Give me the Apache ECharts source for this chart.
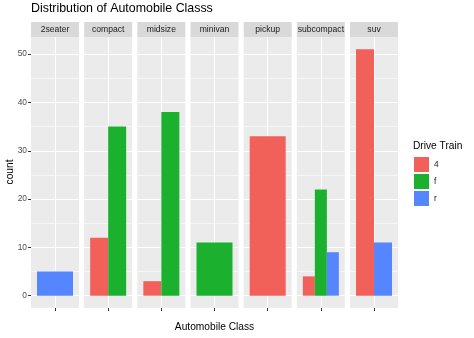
<!DOCTYPE html>
<html><head><meta charset="utf-8">
<script src="https://cdn.jsdelivr.net/npm/echarts@6/dist/echarts.min.js"></script>
<style>html,body{margin:0;padding:0;background:#fff}#c{width:474px;height:338px}</style>
</head><body><div id="c"></div>
<script>
var classes = ['2seater','compact','midsize','minivan','pickup','subcompact','suv'];
var drives = ['4','f','r'];
var count4 = [null, 12, 3, null, 33, 4, 51];
var countF = [null, 35, 38, 11, null, 22, null];
var countR = [5, null, null, null, null, 9, 11];
var yTicks = [0, 10, 20, 30, 40, 50];
var yMinor = [5, 15, 25, 35, 45];
var colors = {'4':'#F2605A','f':'#1BB12E','r':'#5585FF'};

var chart = echarts.init(document.getElementById('c'), null, {renderer:'canvas'});
var step = 53.17, pw = 48, left0 = 31, panelTop = 37, panelBottom = 338-308;
var grids=[], xAxes=[], yAxes=[], series=[], titles=[];
var font = 'Liberation Sans, Arial, sans-serif';
titles.push({text:'Distribution of Automobile Classs', left:31, top:3, padding:0, textStyle:{fontFamily:font,fontSize:12.4,fontWeight:'normal',color:'#000'}});
titles.push({text:'Drive Train', left:413, top:141, padding:0, textStyle:{fontFamily:font,fontSize:10.2,fontWeight:'normal',color:'#000'}});
var graphics = [];
classes.forEach(function(cls, i){
  var l = left0 + i*step;
  grids.push({left:l, width:pw, top:panelTop, bottom:panelBottom, show:true, backgroundColor:'#EBEBEB', borderWidth:0, containLabel:false});
  graphics.push({type:'rect', shape:{x:l, y:22, width:pw, height:15}, style:{fill:'#D9D9D9'}, silent:true});
  graphics.push({type:'text', x:l+pw/2, y:29.5, style:{text:cls, fill:'#1A1A1A', font:'8.6px '+font, align:'center', verticalAlign:'middle'}, silent:true});
  xAxes.push({type:'value', gridIndex:i, min:0.4, max:1.6, position:'bottom',
    axisLine:{show:false, onZero:false}, axisLabel:{show:false},
    axisTick:{show:true, length:3, customValues:[1], lineStyle:{color:'#333',width:1}},
    splitLine:{show:true, lineStyle:{color:'#fff', width:1.1}}});
  yAxes.push({type:'value', gridIndex:i, min:-2.55, max:53.55,
    axisLine:{show:false, onZero:false},
    axisTick:{show:i===0, length:3, customValues:yTicks, lineStyle:{color:'#333',width:1}},
    axisLabel:{show:i===0, customValues:yTicks, margin:4, color:'#4D4D4D', fontSize:8.4, fontFamily:font},
    splitLine:{show:true, lineStyle:{color:'#fff', width:1.1}}});
  yAxes.push({type:'value', gridIndex:i, min:-2.55, max:53.55, position:'left',
    axisLine:{show:false, onZero:false}, axisLabel:{show:false},
    axisTick:{show:false, customValues:yMinor},
    splitLine:{show:true, lineStyle:{color:'#fff', width:0.55}}});
  var present = [];
  if (count4[i] != null) present.push(['4', count4[i]]);
  if (countF[i] != null) present.push(['f', countF[i]]);
  if (countR[i] != null) present.push(['r', countR[i]]);
  var n = present.length;
  present.forEach(function(p, k){
    var bw = 0.9/n;
    var xc = 1 - 0.45 + (k+0.5)*bw;
    series.push({type:'custom', name:p[0], xAxisIndex:i, yAxisIndex:2*i,
      itemStyle:{color:colors[p[0]]},
      data:[[xc, p[1], bw]],
      renderItem:function(params, api){
        var x = api.value(0), v = api.value(1), w = api.value(2);
        var p1 = api.coord([x - w/2, v]);
        var p2 = api.coord([x + w/2, 0]);
        return {type:'rect', shape:{x:p1[0], y:p1[1], width:p2[0]-p1[0], height:p2[1]-p1[1]}, style:{fill:api.visual('color')}};
      }, z:5});
  });
});
graphics.push({type:'text', x:214.5, y:327, style:{text:'Automobile Class', fill:'#000', font:'10.2px '+font, align:'center', verticalAlign:'middle'}, silent:true});
graphics.push({type:'text', x:10, y:172, rotation:Math.PI/2, style:{text:'count', fill:'#000', font:'10.2px '+font, align:'center', verticalAlign:'middle'}, silent:true});

chart.setOption({
  animation:false,
  title:titles,
  grid:grids, xAxis:xAxes, yAxis:yAxes, series:series,
  graphic:graphics,
  legend:{orient:'vertical', left:414, top:157, padding:0, itemWidth:15, itemHeight:15, itemGap:2,
    data:drives.map(function(d){return {name:d, icon:'rect', itemStyle:{color:colors[d]}};}),
    textStyle:{fontSize:8.4, color:'#1A1A1A', fontFamily:font}, selectedMode:false}
});
</script></body></html>
